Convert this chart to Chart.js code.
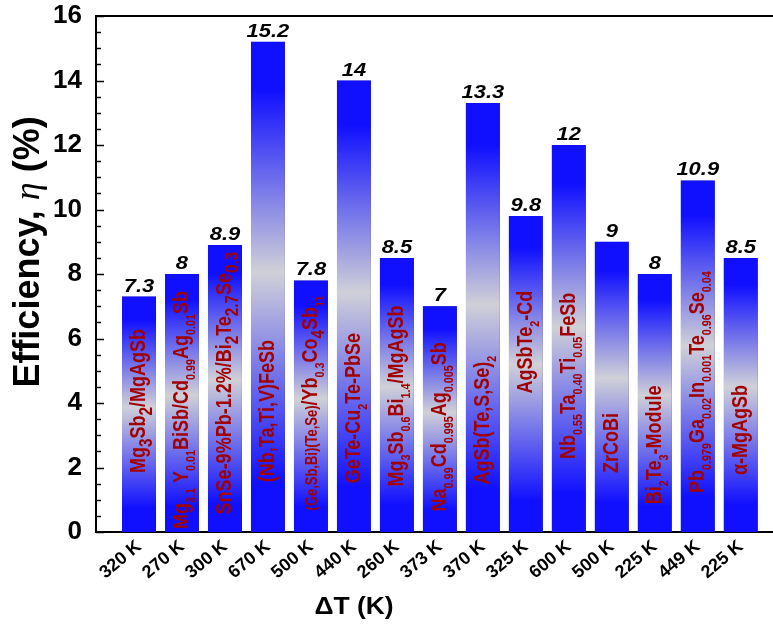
<!DOCTYPE html>
<html>
<head>
<meta charset="utf-8">
<script src="https://cdn.jsdelivr.net/npm/chart.js@4.4.1/dist/chart.umd.min.js"></script>
<style>
  html, body { margin: 0; background: #fff; }
  #wrap { width: 773px; height: 626px; position: relative; }
</style>
</head>
<body>
<div id="wrap"><canvas id="chart"></canvas></div>
<script>
// ---- data ----
const deltaT = ['320 K', '270 K', '300 K', '670 K', '500 K', '440 K', '260 K', '373 K',
                '370 K', '325 K', '600 K', '500 K', '225 K', '449 K', '225 K'];
const efficiency = [7.3, 8, 8.9, 15.2, 7.8, 14, 8.5, 7, 13.3, 9.8, 12, 9, 8, 10.9, 8.5];
// _{..} small subscript, _[..] large subscript, <..> smaller text
const materials = [
  'Mg_[3]Sb_[2]/MgAgSb',
  'Mg_{3.1} Y_{0.01}BiSb/Cd_{0.99}Ag_{0.01}Sb',
  'SnSe-9%Pb-1.2%/Bi_[2]Te_[2.7]Se_[0.3]',
  '(Nb,Ta,Ti,V)FeSb',
  '<(Ge,Sb,Bi)(Te,Se)>/Yb_{0.3}Co_[4]Sb_{11}',
  'GeTe-Cu_{2}Te-PbSe',
  'Mg_{3}Sb_{0.6}Bi_{1.4}/MgAgSb',
  'Na_{0.99}Cd_{0.995}Ag_{0.005}Sb',
  'AgSb(Te,S,Se)_{2}',
  'AgSbTe_{2}-Cd',
  'Nb_{0.55}Ta_{0.40}Ti_{0.05}FeSb',
  'ZrCoBi',
  'Bi_{2}Te_{3}-Module',
  'Pb_{0.979}Ga_{0.02}In_{0.001}Te_{0.96}Se_{0.04}',
  'α-MgAgSb'
];
const yTicks = [0, 2, 4, 6, 8, 10, 12, 14, 16];

// ---- layout (where each rotated formula is centred, in axis units) ----
const labelMid = [4.06, 3.78, 4.62, 3.75, 4.0, 3.84, 4.22, 3.26, 3.47, 5.89, 4.84, 2.76, 2.7, 4.65, 3.16];

const BLUE = '#1010ff';
const LIGHT = '#d0d0d8';
const LABEL_RED = '#a00000';
const SANS = '"Liberation Sans", Arial, sans-serif';
const BAR_FRAC = 0.79;

function barGeom(chart, i) {
  const { x, y } = chart.scales;
  const unit = x.getPixelForValue(1) - x.getPixelForValue(0);
  const cx = x.getPixelForValue(i + 1);
  return { cx, half: unit * BAR_FRAC / 2, top: y.getPixelForValue(efficiency[i]), bottom: y.getPixelForValue(0) };
}

// vertical shading: blue top and bottom, pale in the middle
function fillVertical(c) {
  const chart = c.chart;
  if (c.type !== 'data' || !chart.chartArea) return BLUE;
  const g = barGeom(chart, c.dataIndex);
  const grad = chart.ctx.createLinearGradient(0, g.top, 0, g.bottom);
  grad.addColorStop(0, BLUE);
  grad.addColorStop(0.1, BLUE);
  grad.addColorStop(0.47, LIGHT);
  grad.addColorStop(0.9, BLUE);
  grad.addColorStop(1, BLUE);
  return grad;
}
// horizontal shading laid on top: blue edges, clear centre
function fillHorizontal(c) {
  const chart = c.chart;
  if (c.type !== 'data' || !chart.chartArea) return 'rgba(0,0,0,0)';
  const g = barGeom(chart, c.dataIndex);
  const grad = chart.ctx.createLinearGradient(g.cx - g.half, 0, g.cx + g.half, 0);
  grad.addColorStop(0, 'rgba(16,16,255,1)');
  grad.addColorStop(0.15, 'rgba(16,16,255,0.9)');
  grad.addColorStop(0.42, 'rgba(16,16,255,0)');
  grad.addColorStop(0.58, 'rgba(16,16,255,0)');
  grad.addColorStop(0.85, 'rgba(16,16,255,0.9)');
  grad.addColorStop(1, 'rgba(16,16,255,1)');
  return grad;
}

function parseFormula(s) {
  const out = [];
  const re = /_\{([^}]*)\}|_\[([^\]]*)\]|<([^>]*)>|([^_<]+)/g;
  let m;
  while ((m = re.exec(s))) {
    if (m[1] != null) out.push({ t: m[1], k: 'sub' });
    else if (m[2] != null) out.push({ t: m[2], k: 'big' });
    else if (m[3] != null) out.push({ t: m[3], k: 'small' });
    else out.push({ t: m[4], k: 'n' });
  }
  return out;
}

function drawFormula(ctx, str, cx, cy) {
  const F = 18;
  const style = {
    n: { size: F, dy: 0 },
    sub: { size: F * 0.6, dy: F * 0.3 },
    big: { size: F * 0.85, dy: F * 0.3 },
    small: { size: F * 0.72, dy: 0 }
  };
  const parts = parseFormula(str);
  let total = 0;
  parts.forEach(p => {
    ctx.font = `bold ${style[p.k].size}px ${SANS}`;
    p.w = ctx.measureText(p.t).width;
    total += p.w;
  });
  ctx.save();
  ctx.translate(cx, cy);
  ctx.rotate(-Math.PI / 2);
  ctx.scale(1, 1.22);
  ctx.fillStyle = LABEL_RED;
  ctx.textAlign = 'left';
  ctx.textBaseline = 'alphabetic';
  let px = -total / 2;
  const base = F * 0.28;
  parts.forEach(p => {
    ctx.font = `bold ${style[p.k].size}px ${SANS}`;
    ctx.fillText(p.t, px, base + style[p.k].dy);
    px += p.w;
  });
  ctx.restore();
}

const decor = {
  id: 'decor',
  afterDatasetsDraw(chart) {
    const { ctx, chartArea: a, scales: { x, y } } = chart;
    ctx.save();
    ctx.strokeStyle = '#000';
    // top frame line
    ctx.lineWidth = 2;
    ctx.beginPath();
    ctx.moveTo(a.left - 1, a.top);
    ctx.lineTo(chart.width, a.top);
    ctx.stroke();
    // inward ticks on the y axis
    ctx.lineWidth = 1.5;
    for (let v = 0; v <= 16; v += 0.5) {
      const py = Math.round(y.getPixelForValue(v)) + 0.5;
      const len = v % 2 === 0 ? 8 : 5;
      ctx.beginPath();
      ctx.moveTo(a.left, py);
      ctx.lineTo(a.left + len, py);
      ctx.stroke();
    }
    // value labels above bars and formulas inside
    efficiency.forEach((v, i) => {
      const g = barGeom(chart, i);
      ctx.save();
      ctx.translate(g.cx, g.top - 5);
      ctx.scale(1.22, 1);
      ctx.font = `italic bold 18px ${SANS}`;
      ctx.fillStyle = '#000';
      ctx.textAlign = 'center';
      ctx.textBaseline = 'alphabetic';
      ctx.fillText(String(v), 0, 0);
      ctx.restore();
      drawFormula(ctx, materials[i], g.cx, y.getPixelForValue(labelMid[i]));
    });
    // x axis title
    ctx.save();
    ctx.translate(354, 608);
    ctx.scale(1.15, 1);
    ctx.font = `bold 23px ${SANS}`;
    ctx.fillStyle = '#000';
    ctx.textAlign = 'center';
    ctx.textBaseline = 'middle';
    ctx.fillText('ΔT (K)', 0, 0);
    ctx.restore();
    // y axis title with italic eta
    const segs = [
      { t: 'Efficiency, ', f: `bold 36px ${SANS}` },
      { t: 'η', f: 'italic 36px "Liberation Serif", "Times New Roman", serif' },
      { t: ' (%)', f: `bold 36px ${SANS}` }
    ];
    let tw = 0;
    segs.forEach(s => { ctx.font = s.f; s.w = ctx.measureText(s.t).width; tw += s.w; });
    ctx.translate(39, 252);
    ctx.rotate(-Math.PI / 2);
    ctx.fillStyle = '#000';
    ctx.textAlign = 'left';
    ctx.textBaseline = 'alphabetic';
    let px = -tw / 2;
    segs.forEach(s => { ctx.font = s.f; ctx.fillText(s.t, px, 0); px += s.w; });
    ctx.restore();
  }
};

const points = efficiency.map((v, i) => ({ x: i + 1, y: v }));

new Chart(document.getElementById('chart'), {
  type: 'bar',
  data: {
    datasets: [
      { data: points, backgroundColor: fillVertical, borderWidth: 0, grouped: false,
        barPercentage: BAR_FRAC, categoryPercentage: 1 },
      { data: points, backgroundColor: fillHorizontal, borderColor: '#151515', borderWidth: 1.5,
        borderSkipped: false, grouped: false, barPercentage: BAR_FRAC, categoryPercentage: 1 }
    ]
  },
  options: {
    responsive: true,
    maintainAspectRatio: false,
    devicePixelRatio: 1,
    animation: false,
    layout: { padding: { top: 16, left: 0, right: 0, bottom: 0 } },
    plugins: { legend: { display: false }, tooltip: { enabled: false } },
    scales: {
      x: {
        type: 'linear',
        offset: false,
        min: 0,
        max: 15.75,
        grid: { display: false, drawTicks: false },
        border: { color: '#000', width: 2 },
        afterBuildTicks: s => { s.ticks = deltaT.map((_, i) => ({ value: i + 1 })); },
        afterFit: s => { s.height = 94; s.paddingRight = 0; s.paddingLeft = 0; },
        ticks: {
          autoSkip: false,
          minRotation: 40,
          maxRotation: 40,
          padding: 4,
          color: '#000',
          font: { family: SANS, size: 18, weight: 'bold' },
          callback: v => deltaT[v - 1]
        }
      },
      y: {
        min: 0,
        max: 16,
        grid: { display: false, drawTicks: false },
        border: { color: '#000', width: 2 },
        afterBuildTicks: s => { s.ticks = yTicks.map(v => ({ value: v })); },
        afterFit: s => { s.width = 96; s.paddingTop = 0; s.paddingBottom = 0; },
        ticks: {
          padding: 14,
          color: '#000',
          font: { family: SANS, size: 26, weight: 'bold' }
        }
      }
    }
  },
  plugins: [decor]
});
</script>
</body>
</html>
